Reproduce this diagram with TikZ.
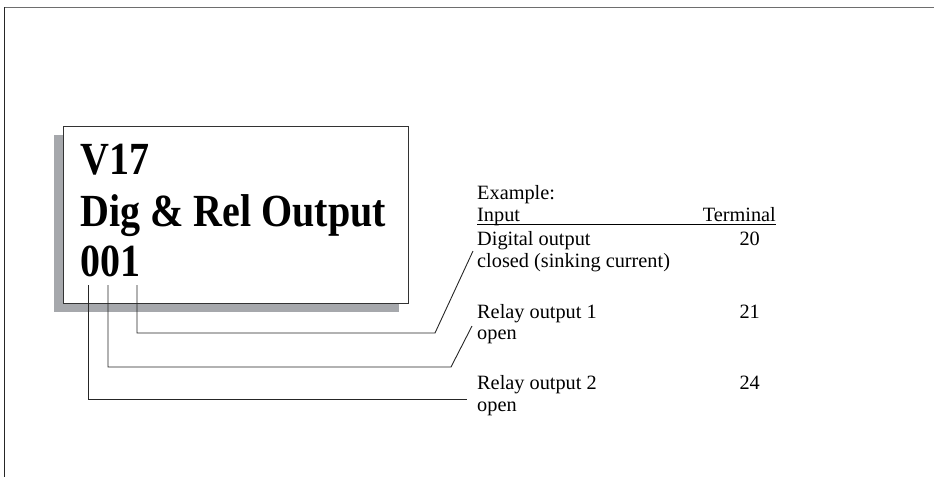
\documentclass[tikz,border=0pt]{standalone}
\usepackage{fontspec}
\setmainfont{Liberation Serif}
\newfontfamily\titlefont[FakeStretch=0.87]{Liberation Serif}
\usetikzlibrary{calc}
\definecolor{shadowgray}{RGB}{166,168,172}
\definecolor{framegray}{RGB}{110,110,110}
\begin{document}
\begin{tikzpicture}[x=1pt,y=-1pt,
  title/.style={font=\titlefont\bfseries\fontsize{46}{46}\selectfont, inner sep=0pt, anchor=base west},
  lbl/.style={font=\fontsize{20.3}{22}\selectfont, inner sep=0pt, anchor=base west},
  num/.style={font=\fontsize{20.3}{22}\selectfont, inner sep=0pt, anchor=base east},
  conn/.style={line width=0.9pt, black!85}]
\useasboundingbox (0,0) rectangle (934,477);
% frame
\draw[framegray, line width=1.6pt] (4,7.5) -- (934,7.5);
\draw[black!85, line width=1pt] (4,7) -- (4,477);
% display box with shadow
\fill[shadowgray] (54,135) rectangle (399,312);
\node[draw=black!80, fill=white, line width=0.8pt, minimum width=345pt, minimum height=177pt, anchor=north west, inner sep=0pt] (box) at (63,126) {};
\node[title] (l1) at (80,174) {V17};
\node[title] (l2) at (80,226) {Dig \& Rel Output};
\node[title] (l3) at (80,276) {001};
% right text
\node[lbl] (ex) at (477,199) {Example:};
\node[lbl] (inp) at (477,221) {Input};
\node[num] (term) at (776,221) {Terminal};
\draw[line width=0.8pt] ($(inp.base west)+(0,3.5)$) -- ($(term.base east)+(0,3.5)$);
\node[lbl] (dig) at (477,245) {Digital output};
\node[num] (t20) at (760,245) {20};
\node[lbl] (clo) at (477,267) {closed (sinking current)};
\node[lbl] (rel1) at (477,318) {Relay output 1};
\node[num] (t21) at (760,318) {21};
\node[lbl] (op1) at (477,339) {open};
\node[lbl] (rel2) at (477,389) {Relay output 2};
\node[num] (t24) at (760,389) {24};
\node[lbl] (op2) at (477,411) {open};
% connectors
\coordinate (s1) at (137,285);
\coordinate (k1) at (435,333);
\coordinate (e1) at (473,251);
\coordinate (s2) at (108,285);
\coordinate (k2) at (451,367);
\coordinate (e2) at (472,326);
\coordinate (s3) at (88,285);
\coordinate (e3) at (467,399);
\draw[conn] (s1) |- (k1) -- (e1);
\draw[conn] (s2) |- (k2) -- (e2);
\draw[conn] (s3) |- (e3);
\end{tikzpicture}
\end{document}
